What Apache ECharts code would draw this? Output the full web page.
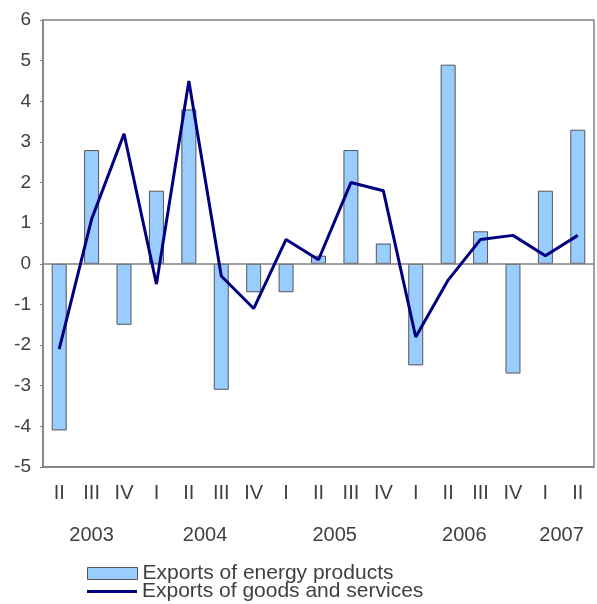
<!DOCTYPE html>
<html><head><meta charset="utf-8">
<script src="https://cdn.jsdelivr.net/npm/echarts@6/dist/echarts.min.js"></script>
<style>html,body{margin:0;padding:0;background:#fff;}#c{width:597px;height:604px;}</style>
</head><body><div id="c"></div>
<script>
const quarters = ['II','III','IV','I','II','III','IV','I','II','III','IV','I','II','III','IV','I','II'];
const years = ['2003','2004','2005','2006','2007'];
const quartersPerYear = [3,4,4,4,2];
const energyExports = [-4.1, 2.8, -1.5, 1.8, 3.8, -3.1, -0.7, -0.7, 0.2, 2.8, 0.5, -2.5, 4.9, 0.8, -2.7, 1.8, 3.3];
const goodsServicesExports = [-2.1, 1.1, 3.2, -0.5, 4.5, -0.3, -1.1, 0.6, 0.1, 2.0, 1.8, -1.8, -0.4, 0.6, 0.7, 0.2, 0.7];
const yTicks = [-5,-4,-3,-2,-1,0,1,2,3,4,5,6];

// year label positions (centre of each year's quarters, in category units)
const yearPos = {};
let start = 0;
years.forEach((y, i) => { yearPos[(start + quartersPerYear[i] / 2).toFixed(1)] = y; start += quartersPerYear[i]; });

const txt = '#404040';
const font = 'Liberation Sans, Arial, sans-serif';
const legendText = { fontSize: 21, fontFamily: font, color: txt };
const chart = echarts.init(document.getElementById('c'));
chart.setOption({
  animation: false,
  backgroundColor: '#fff',
  grid: { left: 43, right: -3, top: 20, bottom: 137, show: true, borderColor: '#808080', borderWidth: 1.5 },
  legend: [
    {
      left: 87, top: 563, itemWidth: 50, itemHeight: 12, padding: 0, icon: 'rect',
      textStyle: legendText,
      data: [{ name: 'Exports of energy products', itemStyle: { color: '#99CCFF', borderColor: '#555', borderWidth: 1 } }]
    },
    {
      left: 87, top: 581, itemWidth: 50, itemHeight: 3, padding: 0, icon: 'rect',
      textStyle: legendText,
      data: [{ name: 'Exports of goods and services' }]
    }
  ],
  xAxis: [
    {
      type: 'category', data: quarters, position: 'bottom',
      axisLine: { onZero: false, show: true, lineStyle: { color: '#808080', width: 1.5 } },
      axisTick: { show: false },
      axisLabel: { interval: 0, margin: 16, fontSize: 20, fontFamily: font, color: txt }
    },
    {
      type: 'value', min: 0, max: quarters.length, interval: 0.5, position: 'bottom', offset: 42,
      axisLine: { show: false }, axisTick: { show: false }, splitLine: { show: false },
      axisLabel: {
        margin: 16, fontSize: 20, fontFamily: font, color: txt, showMinLabel: true, showMaxLabel: true,
        formatter: v => yearPos[v.toFixed(1)] || ''
      }
    }
  ],
  yAxis: {
    type: 'value', min: yTicks[0], max: yTicks[yTicks.length - 1], interval: 1,
    axisLine: { show: true, lineStyle: { color: '#808080', width: 1.5 } },
    axisTick: { show: true, length: 3, lineStyle: { color: '#808080' } },
    splitLine: { show: false },
    axisLabel: { margin: 12, fontSize: 19, fontFamily: font, color: txt }
  },
  series: [
    {
      name: 'Exports of energy products', type: 'bar', data: energyExports, barWidth: 15,
      itemStyle: { color: '#99CCFF', borderColor: '#555', borderWidth: 1 },
      markLine: {
        silent: true, symbol: 'none', label: { show: false },
        lineStyle: { color: '#808080', width: 1.5, type: 'solid' },
        data: [{ yAxis: 0 }]
      }
    },
    {
      name: 'Exports of goods and services', type: 'line', data: goodsServicesExports,
      symbol: 'none', lineStyle: { color: '#000080', width: 3 }, itemStyle: { color: '#000080' }, z: 5
    }
  ]
});
</script></body></html>
